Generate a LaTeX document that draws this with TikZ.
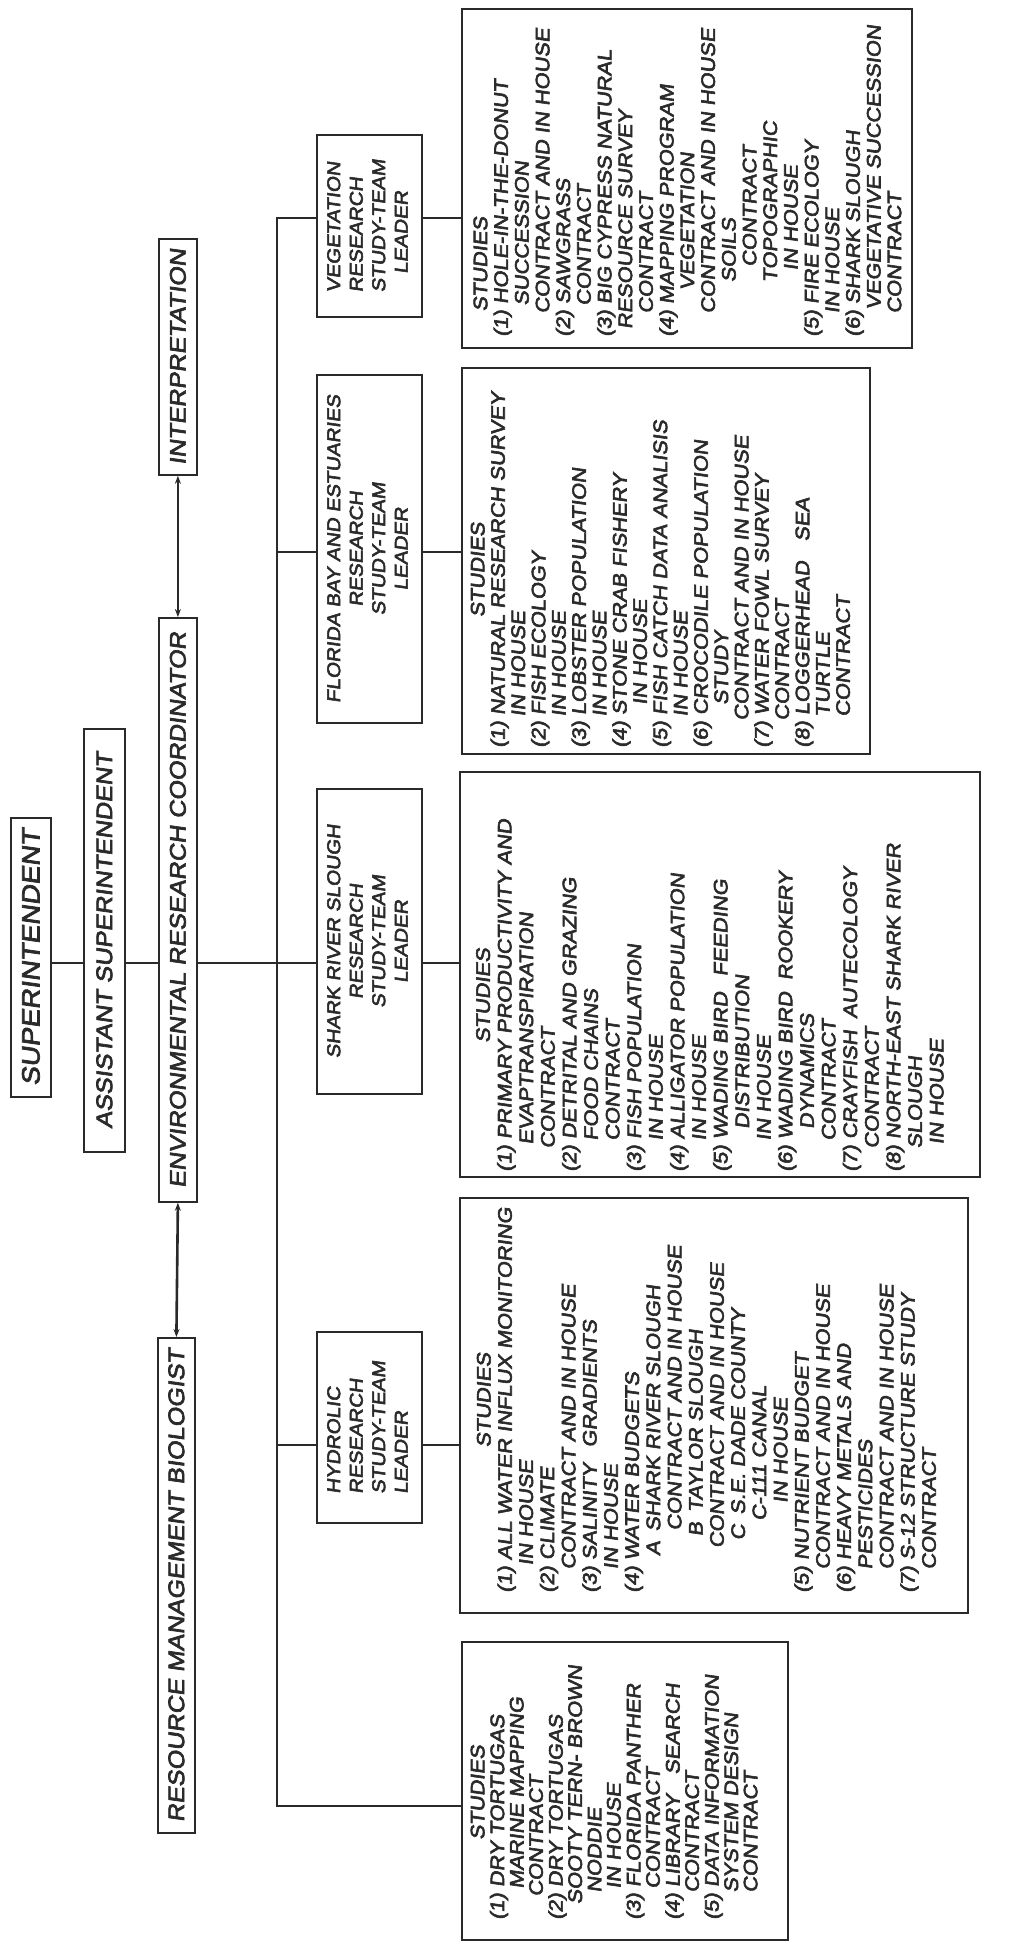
\documentclass[tikz,border=0pt]{standalone}
\usepackage{fontspec}
\usepackage{graphicx}
\usetikzlibrary{arrows.meta}

% hand-lettered capitals: slanted, slightly widened and thickened sans
\newfontfamily\hand{Liberation Sans}[FakeStretch=1.12,FakeSlant=0.14,FakeBold=3]
\definecolor{ink}{HTML}{2A2A2A}

\newcommand\indl[1]{\hspace*{#1em}}
\newcommand\studyhead{\multicolumn{1}{@{}c@{}}{STUDIES}}
% a list of studies, set sideways (read from bottom to top)
\newcommand\studylist[2]{\rotatebox{90}{\fontsize{19.5}{#1}\selectfont\begin{tabular}{@{}l@{}}#2\end{tabular}}}

\begin{document}
\begin{tikzpicture}[x=1pt,y=-1pt,
  panel/.style={draw=ink, text=ink, line width=1.8pt, inner sep=0pt, anchor=north west},
  hdr/.style={panel, font=\hand\fontsize{22.5}{27}\selectfont},
  lead/.style={panel, font=\hand\fontsize{18.5}{22.5}\selectfont},
  stud/.style={inner sep=0pt, anchor=south west, text=ink, font=\hand},
  link/.style={draw=ink, line width=1.8pt},
  twoway/.style={link, {Stealth[length=8pt,width=6pt]}-{Stealth[length=8pt,width=6pt]}}]

\path[use as bounding box, fill=white] (0,0) rectangle (1015,1942);

% ---- management line ----
\node[hdr, minimum width=40pt, minimum height=279pt] (sup) at (10,817)
  {\fontsize{25}{30}\selectfont\rotatebox{90}{SUPERINTENDENT}};
\node[hdr, minimum width=41pt, minimum height=423pt] (asst) at (83,728)
  {\rotatebox{90}{ASSISTANT SUPERINTENDENT}};
\node[hdr, minimum width=38pt, minimum height=584pt] (coord) at (158,617)
  {\rotatebox{90}{ENVIRONMENTAL RESEARCH COORDINATOR}};
\node[hdr, minimum width=38pt, minimum height=236pt] (interp) at (158,238)
  {\rotatebox{90}{INTERPRETATION}};
\node[hdr, minimum width=37pt, minimum height=495pt] (rmb) at (157,1337)
  {\rotatebox{90}{RESOURCE MANAGEMENT BIOLOGIST}};

% ---- study-team leaders ----
\node[lead, minimum width=105pt, minimum height=182pt] (vegL) at (316,134)
  {\rotatebox{90}{\begin{tabular}{@{}l@{}}VEGETATION\\RESEARCH\\STUDY-TEAM\\\indl{1}LEADER\end{tabular}}};
\node[lead, minimum width=105pt, minimum height=348pt] (flaL) at (316,374)
  {\rotatebox{90}{\begin{tabular}{@{}c@{}}FLORIDA BAY AND ESTUARIES\\RESEARCH\\STUDY-TEAM\\LEADER\end{tabular}}};
\node[lead, minimum width=105pt, minimum height=305pt] (shkL) at (316,788)
  {\rotatebox{90}{\begin{tabular}{@{}c@{}}SHARK RIVER SLOUGH\\RESEARCH\\STUDY-TEAM\\LEADER\end{tabular}}};
\node[lead, minimum width=105pt, minimum height=191pt] (hydL) at (316,1331)
  {\rotatebox{90}{\begin{tabular}{@{}l@{}}HYDROLIC\\RESEARCH\\STUDY-TEAM\\LEADER\end{tabular}}};

% ---- study boxes ----
\node[panel, minimum width=450pt, minimum height=339pt] (vegS) at (461,8) {};
\node[panel, minimum width=408pt, minimum height=386pt] (flaS) at (461,367) {};
\node[panel, minimum width=520pt, minimum height=405pt] (shkS) at (459,771) {};
\node[panel, minimum width=508pt, minimum height=415pt] (hydS) at (459,1197) {};
\node[panel, minimum width=326pt, minimum height=298pt] (resS) at (461,1641) {};

\node[stud] (vegT) at (472.5,337) {\studylist{20.7}{%
\indl{1.3}STUDIES\\
(1) HOLE-IN-THE-DONUT\\
\indl{1.6}SUCCESSION\\
\indl{1.2}CONTRACT AND IN HOUSE\\
(2) SAWGRASS\\
\indl{1.6}CONTRACT\\
(3) BIG CYPRESS NATURAL\\
\indl{0.4}RESOURCE SURVEY\\
\indl{1.2}CONTRACT\\
(4) MAPPING PROGRAM\\
\indl{2.4}VEGETATION\\
\indl{1.2}CONTRACT AND IN HOUSE\\
\indl{2.8}SOILS\\
\indl{3.6}CONTRACT\\
\indl{2.8}TOPOGRAPHIC\\
\indl{3.4}IN HOUSE\\
(5) FIRE ECOLOGY\\
\indl{1.2}IN HOUSE\\
(6) SHARK SLOUGH\\
\indl{1.4}VEGETATIVE SUCCESSION\\
\indl{1.2}CONTRACT}};

\node[stud] (flaT) at (470,748) {\studylist{20.3}{%
\studyhead\\
(1) NATURAL RESEARCH SURVEY\\
\indl{1.6}IN HOUSE\\
(2) FISH ECOLOGY\\
\indl{1.6}IN HOUSE\\
(3) LOBSTER POPULATION\\
\indl{1.6}IN HOUSE\\
(4) STONE CRAB FISHERY\\
\indl{2.2}IN HOUSE\\
(5) FISH CATCH DATA ANALISIS\\
\indl{1.6}IN HOUSE\\
(6) CROCODILE POPULATION\\
\indl{2.2}STUDY\\
\indl{1.4}CONTRACT AND IN HOUSE\\
(7) WATER FOWL SURVEY\\
\indl{1.4}CONTRACT\\
(8) LOGGERHEAD\indl{1}SEA\\
\indl{1.6}TURTLE\\
\indl{1.6}CONTRACT}};

\node[stud] (shkT) at (474.5,1172) {\studylist{21.6}{%
\studyhead\\
(1) PRIMARY PRODUCTIVITY AND\\
\indl{1.4}EVAPTRANSPIRATION\\
\indl{1.2}CONTRACT\\
(2) DETRITAL AND GRAZING\\
\indl{1.6}FOOD CHAINS\\
\indl{1.6}CONTRACT\\
(3) FISH POPULATION\\
\indl{1.6}IN HOUSE\\
(4) ALLIGATOR POPULATION\\
\indl{1.6}IN HOUSE\\
(5) WADING BIRD\indl{0.8}FEEDING\\
\indl{2.2}DISTRIBUTION\\
\indl{1.6}IN HOUSE\\
(6) WADING BIRD\indl{0.6}ROOKERY\\
\indl{2.2}DYNAMICS\\
\indl{1.6}CONTRACT\\
(7) CRAYFISH\indl{0.6}AUTECOLOGY\\
\indl{1.2}CONTRACT\\
(8) NORTH-EAST SHARK RIVER\\
\indl{1.2}SLOUGH\\
\indl{1.4}IN HOUSE}};

\node[stud] (hydT) at (475.5,1593) {\studylist{21.2}{%
\studyhead\\
(1) ALL WATER INFLUX MONITORING\\
\indl{1.4}IN HOUSE\\
(2) CLIMATE\\
\indl{1.2}CONTRACT AND IN HOUSE\\
(3) SALINITY\indl{0.8}GRADIENTS\\
\indl{1.2}IN HOUSE\\
(4) WATER BUDGETS\\
\indl{1.9}A\indl{0.5}SHARK RIVER SLOUGH\\
\indl{3.2}CONTRACT AND IN HOUSE\\
\indl{2.9}B\indl{0.5}TAYLOR SLOUGH\\
\indl{2.3}CONTRACT AND IN HOUSE\\
\indl{2.7}C\indl{0.5}S.E. DADE COUNTY\\
\indl{3.7}C-111 CANAL\\
\indl{4.6}IN HOUSE\\
(5) NUTRIENT BUDGET\\
\indl{1.2}CONTRACT AND IN HOUSE\\
(6) HEAVY METALS AND\\
\indl{1.2}PESTICIDES\\
\indl{1.2}CONTRACT AND IN HOUSE\\
(7) S-12 STRUCTURE STUDY\\
\indl{1.2}CONTRACT}};

\node[stud] (resT) at (470.5,1920) {\studylist{19.0}{%
\studyhead\\
(1) DRY TORTUGAS\\
\indl{1.6}MARINE MAPPING\\
\indl{1.2}CONTRACT\\
(2) DRY TORTUGAS\\
\indl{0.8}SOOTY TERN- BROWN\\
\indl{1.4}NODDIE\\
\indl{1.6}IN HOUSE\\
(3) FLORIDA PANTHER\\
\indl{1.6}CONTRACT\\
(4) LIBRARY\indl{1}SEARCH\\
\indl{1.4}CONTRACT\\
(5) DATA INFORMATION\\
\indl{1.4}SYSTEM DESIGN\\
\indl{1.4}CONTRACT}};

% ---- connector rows ----
\coordinate (rowV) at (0,218);
\coordinate (rowF) at (0,552);
\coordinate (rowS) at (0,963);
\coordinate (rowH) at (0,1445);
\coordinate (busBot) at (277,1806);

% chain of command
\draw[link] (sup.east |- rowS) -- (asst.west |- rowS);
\draw[link] (asst.east |- rowS) -- (coord.west |- rowS);
\draw[link] (coord.east |- rowS) -- (shkL.west |- rowS);

% vertical bus to the team leaders and the biologist's studies
\draw[link] (vegL.west |- rowV) -| (busBot) -- (resS.west |- busBot);
\draw[link] (busBot |- rowF) -- (flaL.west |- rowF);
\draw[link] (busBot |- rowH) -- (hydL.west |- rowH);

% leaders to their studies
\draw[link] (vegL.east |- rowV) -- (vegS.west |- rowV);
\draw[link] (flaL.east |- rowF) -- (flaS.west |- rowF);
\draw[link] (shkL.east |- rowS) -- (shkS.west |- rowS);
\draw[link] (hydL.east |- rowH) -- (hydS.west |- rowH);

% two-way liaisons
\draw[twoway] (interp.south) -- (coord.north);
\draw[twoway, line width=2.6pt] (coord.south) -- (rmb.north);
\end{tikzpicture}
\end{document}
